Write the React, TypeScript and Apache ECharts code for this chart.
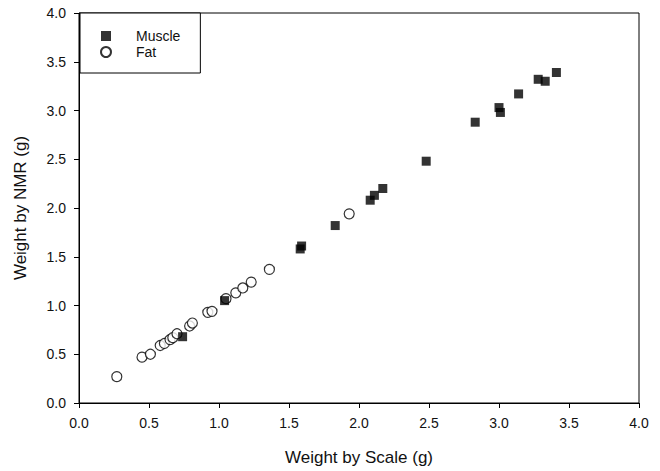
import React, { useEffect, useRef } from "react";
import * as echarts from "echarts";

// Muscle samples: [weight by scale (g), weight by NMR (g)]
const muscleScale = [0.74, 1.04, 1.58, 1.59, 1.83, 2.08, 2.11, 2.17, 2.48, 2.83, 3.0, 3.01, 3.14, 3.28, 3.33, 3.41];
const muscleNmr = [0.68, 1.05, 1.58, 1.61, 1.82, 2.08, 2.13, 2.2, 2.48, 2.88, 3.03, 2.98, 3.17, 3.32, 3.3, 3.39];

// Fat samples: [weight by scale (g), weight by NMR (g)]
const fatScale = [0.27, 0.45, 0.51, 0.58, 0.61, 0.65, 0.67, 0.7, 0.79, 0.81, 0.92, 0.95, 1.05, 1.12, 1.17, 1.23, 1.36, 1.93];
const fatNmr = [0.27, 0.47, 0.5, 0.59, 0.61, 0.65, 0.67, 0.71, 0.79, 0.82, 0.93, 0.94, 1.07, 1.13, 1.18, 1.24, 1.37, 1.94];

const xTitle = "Weight by Scale (g)";
const yTitle = "Weight by NMR (g)";
const axisMax = 4.0;
const axisStep = 0.5;

const pairs = (xs: number[], ys: number[]) => xs.map((x, i) => [x, ys[i]]);

const FONT = "Liberation Sans, Arial, Helvetica, sans-serif";

export default function App() {
  const ref = useRef<HTMLDivElement>(null);

  useEffect(() => {
    if (!ref.current) return;
    const chart = echarts.init(ref.current, undefined, { renderer: "svg" });

    const axisCommon = {
      type: "value" as const,
      min: 0,
      max: axisMax,
      interval: axisStep,
      nameLocation: "middle" as const,
      nameTextStyle: { fontFamily: FONT, fontSize: 17, color: "#111" },
      axisLine: { show: true, onZero: false, lineStyle: { color: "#000", width: 1 } },
      axisTick: { show: true, inside: false, length: 5, lineStyle: { color: "#000", width: 1 } },
      axisLabel: {
        fontFamily: FONT,
        fontSize: 14,
        color: "#111",
        margin: 13,
        formatter: (v: number) => v.toFixed(1),
      },
      splitLine: { show: false },
    };

    chart.setOption({
      animation: false,
      backgroundColor: "#fff",
      grid: {
        left: 79,
        right: 21,
        top: 13,
        bottom: 67,
        show: true,
        borderColor: "#000",
        borderWidth: 1,
      },
      xAxis: { ...axisCommon, name: xTitle, nameGap: 46 },
      yAxis: { ...axisCommon, name: yTitle, nameGap: 50 },
      legend: {
        orient: "vertical",
        left: 80,
        top: 13,
        backgroundColor: "#fff",
        borderColor: "#000",
        borderWidth: 1,
        padding: [16, 20, 14, 20],
        itemGap: 2,
        itemWidth: 10,
        itemHeight: 10,
        textStyle: { fontFamily: FONT, fontSize: 14, color: "#111", padding: [0, 0, 0, 20] },
        data: ["Muscle", "Fat"],
      },
      series: [
        {
          name: "Muscle",
          type: "scatter",
          symbol: "rect",
          symbolSize: 9,
          itemStyle: { color: "#000" },
          data: pairs(muscleScale, muscleNmr),
          z: 3,
        },
        {
          name: "Fat",
          type: "scatter",
          symbol: "circle",
          symbolSize: 10,
          itemStyle: { color: "#fff", borderColor: "#000", borderWidth: 1.2 },
          data: pairs(fatScale, fatNmr),
          z: 2,
        },
      ],
    });

    return () => chart.dispose();
  }, []);

  return <div ref={ref} style={{ width: 660, height: 471, position: "absolute", left: 0, top: 0 }} />;
}
